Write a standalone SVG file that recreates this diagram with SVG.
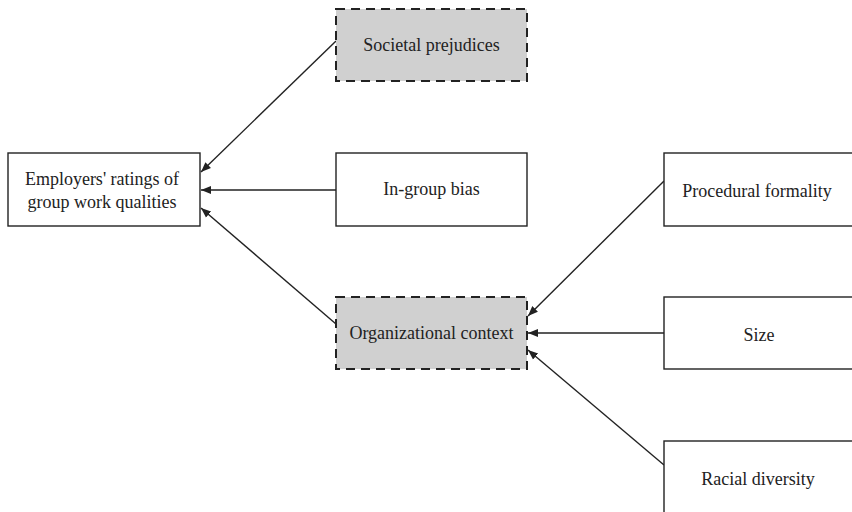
<svg xmlns="http://www.w3.org/2000/svg" width="852" height="512" viewBox="0 0 852 512">
<style>
.box{fill:#ffffff;stroke:#222;stroke-width:1.4}
.dbox{fill:#d0d0d0;stroke:#222;stroke-width:2;stroke-dasharray:9 6}
.t{font-family:"Liberation Serif","Times New Roman",serif;font-size:18px;fill:#222;text-anchor:middle}
.c{stroke:#222;stroke-width:1.4;fill:none;marker-end:url(#ah)}
</style>
<defs>
<marker id="ah" viewBox="0 0 10 10" refX="10" refY="5" markerWidth="10" markerHeight="10" markerUnits="userSpaceOnUse" orient="auto">
<path d="M0,1 L10,5 L0,9 z" fill="#222"/>
</marker>
</defs>
<rect width="852" height="512" fill="#fff"/>
<g id="connectors">
<line class="c" x1="336" y1="41" x2="201" y2="172"/>
<line class="c" x1="336" y1="190" x2="201" y2="190"/>
<line class="c" x1="336" y1="324" x2="201" y2="208"/>
<line class="c" x1="664" y1="181" x2="528" y2="316"/>
<line class="c" x1="664" y1="333" x2="528" y2="333"/>
<line class="c" x1="664" y1="465" x2="528" y2="350"/>
</g>
<g id="employers">
<rect class="box" x="8" y="153" width="192" height="73"/>
<text class="t" x="102" y="185">Employers' ratings of</text>
<text class="t" x="102" y="208">group work qualities</text>
</g>
<g id="societal">
<rect class="dbox" x="336" y="9" width="191" height="72"/>
<text class="t" x="431.5" y="51">Societal prejudices</text>
</g>
<g id="ingroup">
<rect class="box" x="336" y="153" width="191" height="73"/>
<text class="t" x="431.5" y="195">In-group bias</text>
</g>
<g id="org">
<rect class="dbox" x="336" y="297" width="191" height="72"/>
<text class="t" x="431.5" y="339">Organizational context</text>
</g>
<g id="procedural">
<rect class="box" x="664" y="153" width="200" height="73"/>
<text class="t" x="757" y="197">Procedural formality</text>
</g>
<g id="size">
<rect class="box" x="664" y="297" width="200" height="72"/>
<text class="t" x="759" y="341">Size</text>
</g>
<g id="racial">
<rect class="box" x="664" y="441" width="200" height="80"/>
<text class="t" x="758" y="485">Racial diversity</text>
</g>
</svg>
